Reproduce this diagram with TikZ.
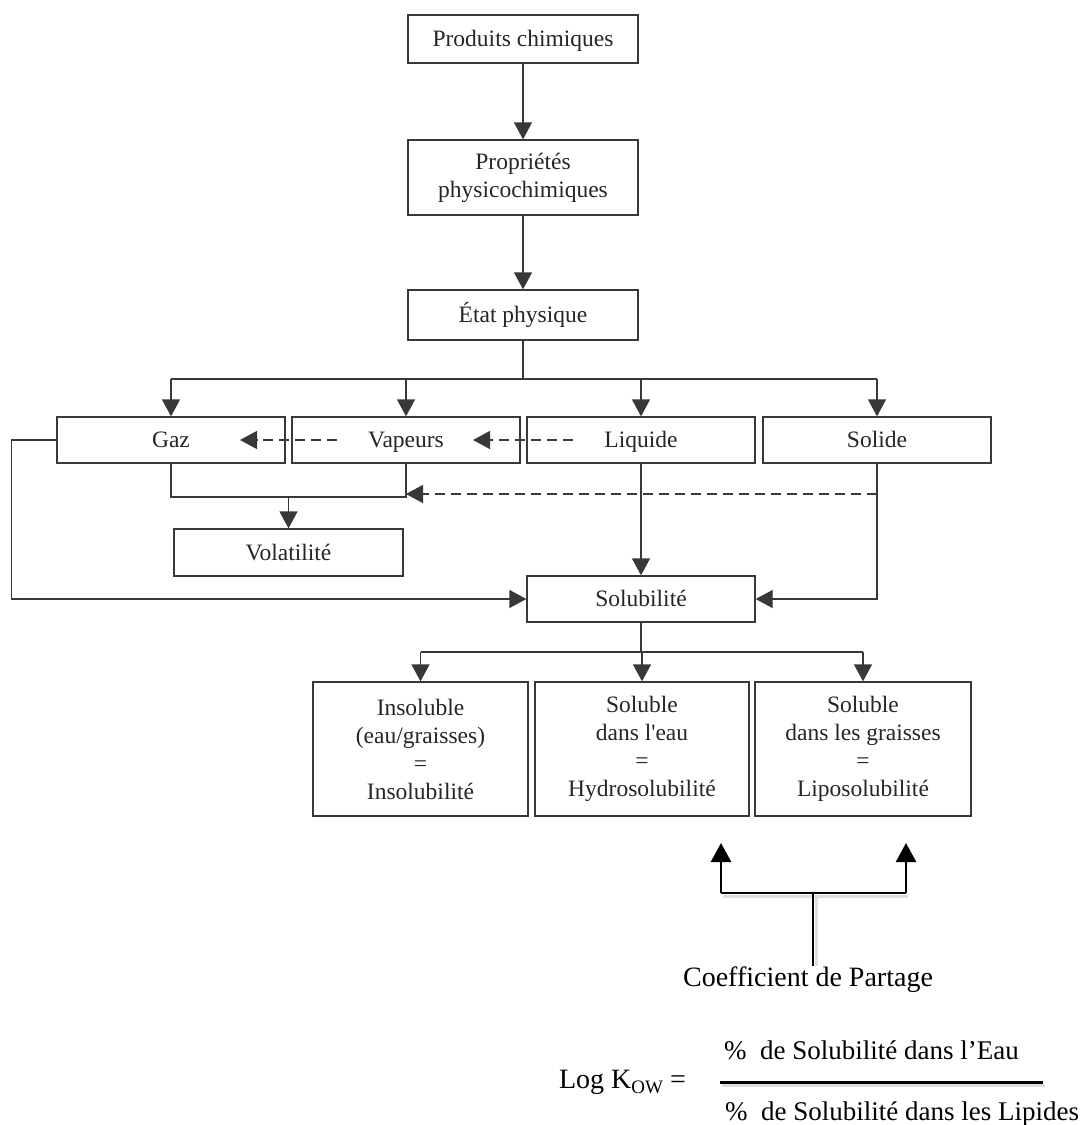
\documentclass[tikz,border=0pt]{standalone}
\usepackage{fontspec}
\setmainfont{Liberation Serif}
\newfontfamily\plainserif{Liberation Serif}
\usetikzlibrary{arrows.meta}
\definecolor{linec}{HTML}{383838}
\definecolor{textc}{HTML}{262626}
\begin{document}
\begin{tikzpicture}[x=1pt,y=-1pt,
  box/.style={draw=linec, line width=1.3pt, fill=white, minimum width=228pt, minimum height=47pt,
    inner sep=0pt, align=center, text=textc, font=\fontsize{23.5}{28}\selectfont},
  sbox/.style={box, text height=17pt, text depth=1.5pt},
  conn/.style={draw=linec, line width=1.3pt},
  arr/.style={conn, -{Triangle[length=17pt,width=18pt]}},
  darr/.style={arr, dash pattern=on 10pt off 6pt},
  bline/.style={draw=black, line width=2.4pt},
  barr/.style={bline, -{Triangle[length=19pt,width=20pt]}},
  shadowline/.style={draw=black!13, line width=3pt},
  big/.style={inner sep=0pt, font=\fontsize{28}{32}\selectfont},
  frac/.style={inner sep=0pt, font=\fontsize{27}{32}\selectfont}]
\useasboundingbox (0,0) rectangle (1088,1125);

% boxes
\node[sbox, minimum width=230pt, minimum height=48pt] (prod) at (523,39) {Produits chimiques};
\node[box, minimum width=230pt, minimum height=75pt] (prop) at (523,177.5) {Propriétés\\physicochimiques};
\node[sbox, minimum width=230pt, minimum height=50pt] (etat) at (523,315) {État physique};
\node[sbox, minimum height=46pt] (gaz) at (171,440) {Gaz};
\node[sbox, minimum height=46pt] (vap) at (406,440) {Vapeurs};
\node[sbox, minimum height=46pt] (liq) at (641,440) {Liquide};
\node[sbox, minimum height=46pt] (sol) at (877,440) {Solide};
\node[sbox, minimum width=229pt] (vol) at (288.5,552.5) {Volatilité};
\node[sbox, minimum height=46pt] (solu) at (641,599) {Solubilité};
\node[box, minimum width=215pt, minimum height=134pt] (ins) at (420.5,749) {Insoluble\\(eau/graisses)\\=\\Insolubilité};
\node[box, minimum width=214pt, minimum height=134pt] (hyd) at (642,749) {Soluble\\dans l{\plainserif '}eau\\=\\Hydrosolubilité};
\node[box, minimum width=216pt, minimum height=134pt] (lip) at (863,749) {Soluble\\dans les graisses\\=\\Liposolubilité};

% top chain
\draw[arr] (prod) -- (prop);
\draw[arr] (prop) -- (etat);
\coordinate (bus1) at (524,379);
\draw[conn] (etat.south) -- (etat.south |- bus1);
\draw[conn] (gaz.north |- bus1) -- (sol.north |- bus1);
\draw[arr] (gaz.north |- bus1) -- (gaz.north);
\draw[arr] (vap.north |- bus1) -- (vap.north);
\draw[arr] (liq.north |- bus1) -- (liq.north);
\draw[arr] (sol.north |- bus1) -- (sol.north);

% dashed transitions
\draw[darr] ([xshift=-68pt]liq.center) -- ([xshift=67pt]vap.center);
\draw[darr] ([xshift=-69pt]vap.center) -- ([xshift=69pt]gaz.center);

% volatility bracket
\coordinate (jn) at (288,497);
\draw[conn] (gaz.south) |- (vap.south |- jn) -- (vap.south);
\draw[arr] (vol.north |- jn) -- (vol.north);
\coordinate (dsh) at (877,494);
\draw[darr] (sol.south |- dsh) -- (vap.south |- dsh);

% to solubility
\draw[arr] (liq.south) -- (solu.north);
\draw[arr] (sol.south) |- (solu.east);
\draw[arr] (gaz.west) -- ++(-45,0) |- (solu.west);

% solubility split
\coordinate (bus2) at (641,652);
\draw[conn] (solu.south) -- (solu.south |- bus2);
\draw[conn] (ins.north |- bus2) -- (lip.north |- bus2);
\draw[arr] (ins.north |- bus2) -- (ins.north);
\draw[arr] (hyd.north |- bus2) -- (hyd.north);
\draw[arr] (lip.north |- bus2) -- (lip.north);

% partition coefficient bracket
\node[big, anchor=base] (coef) at (808,986) {Coefficient de Partage};
\coordinate (ua) at (721,843);
\coordinate (ub) at (906,843);
\coordinate (mid) at (813,893);
\draw[shadowline] ([shift={(2,3)}]ua |- mid) -- ([shift={(2,3)}]ub |- mid);
\draw[shadowline] ([shift={(3,3)}]mid) -- ([shift={(3,0)}]mid |- coef.north);
\draw[bline] (ua |- mid) -- (ub |- mid);
\draw[barr] (ua |- mid) -- (ua);
\draw[barr] (ub |- mid) -- (ub);
\draw[bline] (mid) -- (mid |- coef.north);

% formula
\node[big, anchor=base east] (log) at (686,1088) {Log K\raisebox{-5pt}{\fontsize{19}{19}\selectfont OW} =};
\coordinate (fa) at (720,1082);
\coordinate (fb) at (1043,1082);
\draw[draw=black!13, line width=3pt] ([shift={(2pt,-3pt)}]fa) -- ([shift={(2pt,-3pt)}]fb);
\draw[draw=black, line width=3pt] (fa) -- (fb);
\node[frac, anchor=base west] (num) at (724,1059) {\%\ \ de Solubilité dans l’Eau};
\node[frac, anchor=base west] (den) at (725,1120) {\%\ \ de Solubilité dans les Lipides};
\end{tikzpicture}
\end{document}
